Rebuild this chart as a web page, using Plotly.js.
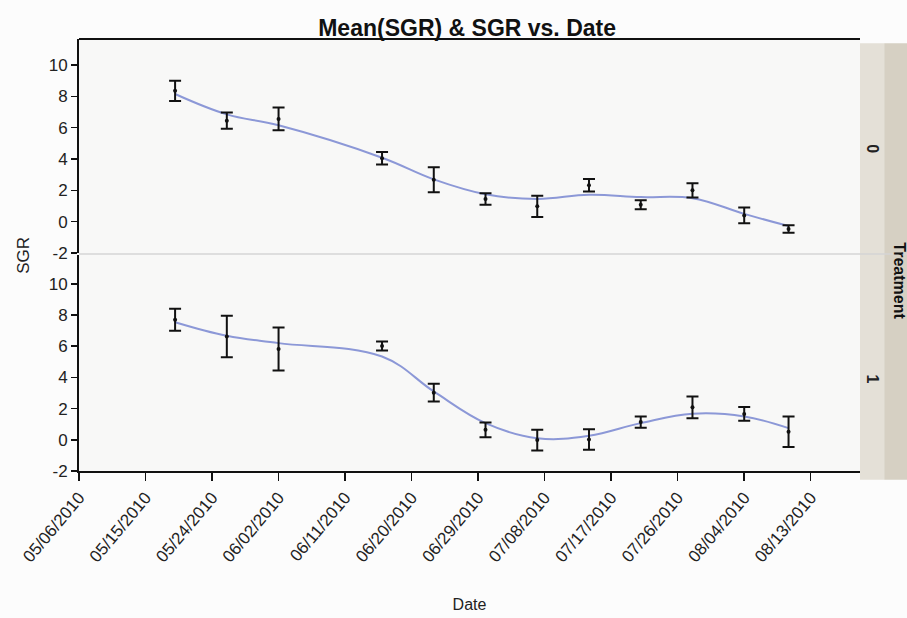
<!DOCTYPE html>
<html>
<head>
<meta charset="utf-8">
<script src="https://cdn.plot.ly/plotly-3.0.1.min.js"></script>
<style>html,body{margin:0;padding:0;background:#fcfcfc;}#chart{width:907px;height:618px;}</style>
</head>
<body>
<div id="chart"></div>
<script>
// ---- data ----
const dates = ['2010-05-19','2010-05-26','2010-06-02','2010-06-16','2010-06-23','2010-06-30',
               '2010-07-07','2010-07-14','2010-07-21','2010-07-28','2010-08-04','2010-08-10'];
// Treatment 0 (top panel)
const sgr0     = [8.35, 6.45, 6.56, 4.05, 2.68, 1.45, 0.98, 2.32, 1.08, 2.00, 0.40, -0.47];
const sgr0Err  = [0.65, 0.52, 0.73, 0.40, 0.80, 0.37, 0.68, 0.40, 0.29, 0.45, 0.50, 0.24];
const smooth0  = [8.15, 6.85, 6.15, 4.08, 2.70, 1.75, 1.45, 1.72, 1.57, 1.50, 0.50, -0.28];
// Treatment 1 (bottom panel)
const sgr1     = [7.70, 6.62, 5.82, 6.01, 3.02, 0.64, -0.02, 0.02, 1.14, 2.08, 1.66, 0.52];
const sgr1Err  = [0.70, 1.33, 1.38, 0.29, 0.57, 0.47, 0.66, 0.66, 0.36, 0.70, 0.44, 0.98];
const smooth1  = [7.54, 6.67, 6.20, 5.34, 3.10, 1.07, 0.10, 0.26, 1.07, 1.67, 1.50, 0.75];
// axis ticks
const xTickVals  = ['2010-05-06','2010-05-15','2010-05-24','2010-06-02','2010-06-11','2010-06-20',
                    '2010-06-29','2010-07-08','2010-07-17','2010-07-26','2010-08-04','2010-08-13'];
const xTickText  = ['05/06/2010','05/15/2010','05/24/2010','06/02/2010','06/11/2010','06/20/2010',
                    '06/29/2010','07/08/2010','07/17/2010','07/26/2010','08/04/2010','08/13/2010'];
const yTickVals  = [-2, 0, 2, 4, 6, 8, 10];
const yTickText  = ['-2', '0', '2', '4', '6', '8', '10'];
const treatments = ['0', '1'];

const lineColor = 'rgb(140,152,215)';
function smoothTrace(y, yax){
  return {x: dates, y: y, yaxis: yax, type: 'scatter', mode: 'lines',
          line: {color: lineColor, width: 2, shape: 'spline', smoothing: 1.1},
          hoverinfo: 'skip', showlegend: false};
}
function barTrace(y, err, yax){
  return {x: dates, y: y, yaxis: yax, type: 'scatter', mode: 'markers',
          marker: {color: '#111', size: 4},
          error_y: {type: 'data', array: err, visible: true, color: '#111', thickness: 2, width: 6},
          showlegend: false};
}
const data = [
  smoothTrace(smooth0, 'y2'), barTrace(sgr0, sgr0Err, 'y2'),
  smoothTrace(smooth1, 'y'),  barTrace(sgr1, sgr1Err, 'y')
];

const FAM = 'Arial, Liberation Sans, sans-serif';
const axFont = {family: FAM, size: 17, color: '#222'};
const yCommon = {
  tickvals: yTickVals, ticktext: yTickText, ticks: 'outside', ticklen: 6, tickwidth: 1.5, tickcolor: '#111',
  showline: true, linecolor: '#111', linewidth: 2, showgrid: false, zeroline: false,
  tickfont: axFont, fixedrange: true
};

const layout = {
  width: 907, height: 618,
  margin: {l: 79, r: 47, t: 39, b: 147},
  paper_bgcolor: '#fcfcfc', plot_bgcolor: '#f8f8f7',
  title: {text: '<b>Mean(SGR) & SGR vs. Date</b>', x: 0.515, xanchor: 'center', y: 0.968, yanchor: 'top',
          font: {family: FAM, size: 23, color: '#111'}},
  xaxis: {
    type: 'date', range: ['2010-05-06', '2010-08-19 16:00'],
    tickvals: xTickVals, ticktext: xTickText, tickangle: -50,
    ticks: 'outside', ticklen: 8, tickwidth: 1.5, tickcolor: '#111',
    showline: true, linecolor: '#111', linewidth: 2, showgrid: false, zeroline: false,
    tickfont: {family: FAM, size: 17, color: '#222'},
    anchor: 'y',
    title: {text: 'Date', standoff: 34, font: {family: FAM, size: 16, color: '#222'}}
  },
  yaxis: Object.assign({}, yCommon, {domain: [0, 0.5], range: [-2, 11.85], anchor: 'x'}),
  yaxis2: Object.assign({}, yCommon, {domain: [0.5046, 1], range: [-2, 11.66], anchor: 'x'}),
  shapes: [
    {type: 'rect', xref: 'paper', yref: 'paper', x0: 1.0, x1: 1.031, y0: -0.02, y1: 0.99,
     fillcolor: '#e4e0d7', line: {width: 0}, layer: 'below'},
    {type: 'rect', xref: 'paper', yref: 'paper', x0: 1.031, x1: 1.07, y0: -0.02, y1: 0.99,
     fillcolor: '#d6d0c3', line: {width: 0}, layer: 'below'},
    {type: 'line', xref: 'paper', yref: 'paper', x0: 0, x1: 1, y0: 1, y1: 1,
     line: {color: '#111', width: 2}},
    {type: 'line', xref: 'paper', yref: 'paper', x0: 0, x1: 1.07, y0: 0.5023, y1: 0.5023,
     line: {color: '#d4d4d4', width: 1.5}}
  ],
  annotations: [
    {text: '<b>' + treatments[0] + '</b>', xref: 'paper', yref: 'paper', x: 1.0165, y: 0.745, textangle: 90,
     xanchor: 'center', yanchor: 'middle',
     showarrow: false, font: {family: FAM, size: 16, color: '#222'}},
    {text: '<b>' + treatments[1] + '</b>', xref: 'paper', yref: 'paper', x: 1.0165, y: 0.212, textangle: 90,
     xanchor: 'center', yanchor: 'middle',
     showarrow: false, font: {family: FAM, size: 16, color: '#222'}},
    {text: '<b>Treatment</b>', xref: 'paper', yref: 'paper', x: 1.0495, y: 0.44, textangle: 90,
     xanchor: 'center', yanchor: 'middle',
     showarrow: false, font: {family: FAM, size: 16, color: '#111'}},
    {text: 'SGR', xref: 'paper', yref: 'paper', x: -0.072, y: 0.50, textangle: -90,
     xanchor: 'center', yanchor: 'middle',
     showarrow: false, font: {family: FAM, size: 17, color: '#222'}}
  ]
};

Plotly.newPlot('chart', data, layout, {displayModeBar: false, staticPlot: true});
</script>
</body>
</html>
